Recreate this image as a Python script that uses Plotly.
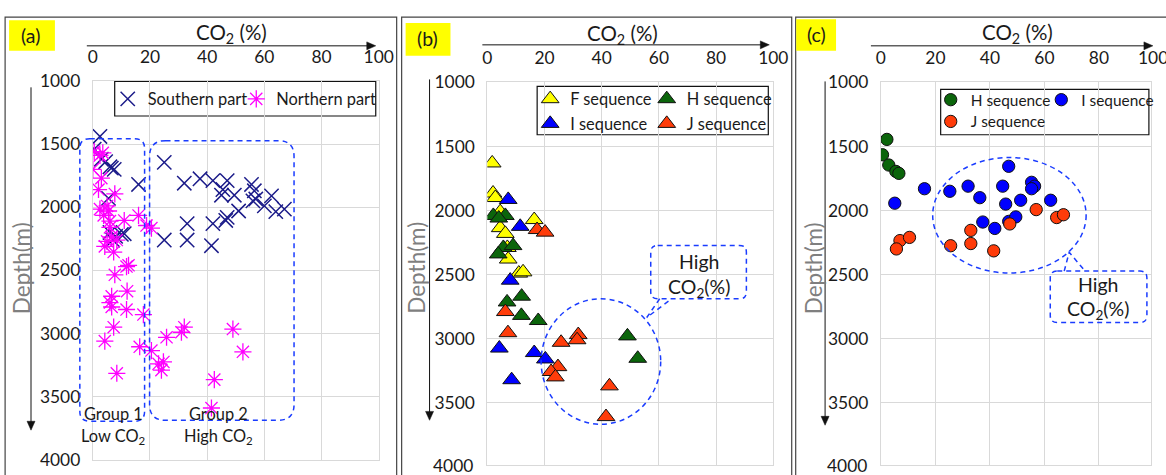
import plotly.graph_objects as go

# ---------------- data ----------------
# Panel (a)
south_co2 = [2.5, 0.5, 3, 6.5, 7.5, 6, 16, 5.5, 11, 6, 7, 10, 4.5, 8,
             25, 32, 37.5, 42, 47, 45, 49.5, 45.5, 55.5, 56.5, 56, 60, 62.5, 64, 67,
             51, 47, 46.5, 42, 33, 33, 25, 41.5, 57]
south_depth = [1440, 1540, 1620, 1690, 1700, 1680, 1820, 1930, 2210, 2200, 2260, 2215, 1640, 2230,
               1645, 1810, 1775, 1790, 1790, 1905, 1905, 1860, 1820, 1870, 1950, 1990, 1910, 2035, 2015,
               2030, 2080, 2105, 2130, 2130, 2260, 2260, 2305, 1935]
north_co2 = [0.5, 0, 2.5, 3.5, 3, 2, 7.7, 2.5, 5, 5.5, 3.8, 11, 16, 18.8, 20.5, 6, 6.6, 8.4,
             4.2, 7.3, 11.8, 12.5, 7.7, 12, 6.6, 6, 6.6, 11.8, 17.7, 7.3, 4.2, 16.4, 20.5,
             25.8, 23, 24.7, 24, 8.4, 31, 32, 49, 52.5, 42.5, 41.5, 5, 6]
north_depth = [1560, 1700, 1590, 1570, 1770, 1860, 1895, 2015, 1990, 2030, 2065, 2105, 2065, 2145,
               2165, 2160, 2235, 2260, 2310, 2355, 2470, 2460, 2535, 2665, 2705, 2755, 2790, 2810,
               2850, 2950, 3060, 3105, 3135, 3030, 3240, 3225, 3290, 3315, 2990, 2950, 2965, 3145,
               3365, 3590, 2270, 2110]

# Panel (b)
bF_co2 = [1.7, 2, 2.8, 4.5, 16.4, 4.5, 6.3, 7, 7.3, 11, 12.5]
bF_depth = [1630, 1865, 1900, 2010, 2072, 2135, 2180, 2290, 2380, 2490, 2480]
bH_co2 = [2.1, 6.3, 4, 5.6, 9, 3.8, 6.9, 12, 11.9, 17.8, 49, 52.6]
bH_depth = [2040, 2040, 2060, 2290, 2275, 2340, 2715, 2670, 2820, 2860, 2980, 3155]
bI_co2 = [7.3, 11.5, 8, 4.2, 16.4, 20.3, 8.5]
bI_depth = [1915, 2125, 2545, 3075, 3110, 3160, 3322]
bJ_co2 = [17.4, 20.2, 6.3, 7.2, 25.8, 31.8, 31.4, 24.7, 22.3, 23.8, 42.7, 41.5]
bJ_depth = [2150, 2170, 2790, 2955, 3030, 2970, 3010, 3220, 3258, 3300, 3370, 3610]

# Panel (c)
cH_co2 = [2.2, 0.6, 2.9, 5.5, 6.6]
cH_depth = [1445, 1565, 1645, 1695, 1710]
cI_co2 = [5.1, 16, 25.3, 32, 36.3, 44.7, 46.9, 45.8, 51.3, 55.3, 56.4, 55.3, 62.3, 37.4, 41.8, 46.9, 49.5]
cI_depth = [1943, 1830, 1850, 1810, 1900, 1810, 1655, 1950, 1920, 1780, 1810, 1830, 1920, 2090, 2140, 2085, 2050]
cJ_co2 = [57, 64.5, 67, 47.3, 33, 7, 10.5, 5.7, 25.6, 33, 41.4]
cJ_depth = [1993, 2055, 2033, 2105, 2155, 2235, 2210, 2300, 2275, 2258, 2315]

x_ticks = [0, 20, 40, 60, 80, 100]
y_ticks = [1000, 1500, 2000, 2500, 3000, 3500, 4000]

# ---------------- layout helpers ----------------
W, H = 1166, 475
# the photographed page keeps an 8px body margin and is then fitted back to W x H;
# design positions below are given in photographed-picture pixels and mapped here.
M = 8
SX, SY = (W + 2 * M) / W, (H + 2 * M) / H
FS = (SX + SY) / 2  # font / marker compensation
FONT = "Lato"


def fx(x):
    return x * SX - M


def fy(y):
    return y * SY - M


def PX(x):
    return fx(x) / W


def PY(y):
    return 1 - fy(y) / H


def fs(s):
    return round(s * FS, 1)


def rrect_path(x0, y0, x1, y1, r):
    X = lambda v: f"{PX(v):.5f}"
    Y = lambda v: f"{PY(v):.5f}"
    return (f"M {X(x0 + r)},{Y(y0)} L {X(x1 - r)},{Y(y0)} Q {X(x1)},{Y(y0)} {X(x1)},{Y(y0 + r)} "
            f"L {X(x1)},{Y(y1 - r)} Q {X(x1)},{Y(y1)} {X(x1 - r)},{Y(y1)} "
            f"L {X(x0 + r)},{Y(y1)} Q {X(x0)},{Y(y1)} {X(x0)},{Y(y1 - r)} "
            f"L {X(x0)},{Y(y0 + r)} Q {X(x0)},{Y(y0)} {X(x0 + r)},{Y(y0)} Z")


def poly_path(pts, close=True):
    s = "M " + " L ".join(f"{PX(x):.5f},{PY(y):.5f}" for x, y in pts)
    return s + (" Z" if close else "")


def span(a, b, va, vb):
    """clamp a domain [a,b] (fractions) to [0,1], returning domain and matching range"""
    a2, b2 = max(0.0, a), min(1.0, b)
    f = lambda t: va + (t - a) / (b - a) * (vb - va)
    return [a2, b2], [f(a2), f(b2)]


fig = go.Figure()

panels = [
    dict(x0=96, x1=383, y0=78.5, y1=462),
    dict(x0=492, x1=779, y0=80, y1=469),
    dict(x0=887, x1=1160.5, y0=80, y1=469),
]

axis_font = dict(family=FONT, size=fs(17), color="#1a1a1a")
for i, p in enumerate(panels):
    n = "" if i == 0 else str(i + 1)
    xdom, xrng = span(PX(p["x0"]), PX(p["x1"]), 0, 100)
    ydom, yrng = span(PY(p["y1"]), PY(p["y0"]), 4000, 1000)
    fig.update_layout(**{
        f"xaxis{n}": dict(domain=xdom, range=xrng, side="top",
                          anchor=f"y{n}", tickvals=x_ticks, showgrid=True, gridcolor="#d9d9d9",
                          gridwidth=1, zeroline=False, showline=True, mirror=True,
                          linecolor="#d9d9d9", linewidth=1, ticks="", ticklabelstandoff=10,
                          ticklabeloverflow="allow", tickfont=axis_font),
        f"yaxis{n}": dict(domain=ydom, range=yrng,
                          anchor=f"x{n}", tickvals=y_ticks, showgrid=True, gridcolor="#d9d9d9",
                          gridwidth=1, zeroline=False, showline=True, mirror=True,
                          linecolor="#d9d9d9", linewidth=1, ticks="", ticklabelstandoff=8,
                          ticklabeloverflow="allow", tickfont=axis_font),
    })

# ---------------- traces ----------------
fig.add_trace(go.Scatter(x=south_co2, y=south_depth, mode="markers", name="Southern part",
                         marker=dict(symbol="x-thin-open", size=fs(14), color="#1c1c8a",
                                     line=dict(color="#1c1c8a", width=1.5)),
                         xaxis="x", yaxis="y", legend="legend"))
fig.add_trace(go.Scatter(x=north_co2, y=north_depth, mode="markers", name="Northern part",
                         marker=dict(symbol="asterisk-open", size=fs(14), color="#ff00ff",
                                     line=dict(color="#ff00ff", width=1.3)),
                         xaxis="x", yaxis="y", legend="legend2"))

tri = lambda c: dict(symbol="triangle-up", size=fs(15), color=c, line=dict(color="#111", width=1))
fig.add_trace(go.Scatter(x=bF_co2, y=bF_depth, mode="markers", name="F sequence", marker=tri("#ffff00"),
                         xaxis="x2", yaxis="y2", legend="legend3"))
fig.add_trace(go.Scatter(x=bH_co2, y=bH_depth, mode="markers", name="H sequence", marker=tri("#0b650b"),
                         xaxis="x2", yaxis="y2", legend="legend4"))
fig.add_trace(go.Scatter(x=bI_co2, y=bI_depth, mode="markers", name="I sequence", marker=tri("#0000ff"),
                         xaxis="x2", yaxis="y2", legend="legend5"))
fig.add_trace(go.Scatter(x=bJ_co2, y=bJ_depth, mode="markers", name="J sequence", marker=tri("#ff3c0a"),
                         xaxis="x2", yaxis="y2", legend="legend6"))

circ = lambda c: dict(symbol="circle", size=fs(12), color=c, line=dict(color="#111", width=1))
fig.add_trace(go.Scatter(x=cH_co2, y=cH_depth, mode="markers", name="H sequence", marker=circ("#0b650b"),
                         xaxis="x3", yaxis="y3", legend="legend7"))
fig.add_trace(go.Scatter(x=cI_co2, y=cI_depth, mode="markers", name="I sequence", marker=circ("#0000ff"),
                         xaxis="x3", yaxis="y3", legend="legend8"))
fig.add_trace(go.Scatter(x=cJ_co2, y=cJ_depth, mode="markers", name="J sequence", marker=circ("#ff3c0a"),
                         xaxis="x3", yaxis="y3", legend="legend9"))


def leg(x, y, size=16):
    return dict(x=PX(x), y=PY(y), xanchor="left", yanchor="middle",
                bgcolor="rgba(0,0,0,0)", borderwidth=0,
                font=dict(family=FONT, size=fs(size), color="#1a1a1a"), itemwidth=30)


fig.update_layout(
    legend=leg(111, 97), legend2=leg(240, 97),
    legend3=leg(535, 97), legend4=leg(652, 97),
    legend5=leg(535, 122), legend6=leg(652, 122),
    legend7=leg(937, 98, 15), legend8=leg(1048, 98, 15),
    legend9=leg(937, 120, 15),
)

shapes = []
# panel borders
for (a, b) in [(8, 401), (406, 797.5), (801.5, 1175)]:
    shapes.append(dict(type="rect", xref="paper", yref="paper", x0=PX(a), x1=PX(b), y0=PY(480), y1=PY(14),
                       line=dict(color="#444", width=1.2), layer="below"))
# legend boxes
for (a, b, c, d) in [(118, 380, 79, 114), (542, 774, 84, 133), (947, 1156, 87, 133)]:
    shapes.append(dict(type="rect", xref="paper", yref="paper", x0=PX(a), x1=PX(b), y0=PY(d), y1=PY(c),
                       line=dict(color="#111", width=1.2), fillcolor="white", layer="below"))
# yellow label boxes
for (a, b, c, d) in [(12, 58, 17, 48), (410, 455, 20, 53), (802, 842, 16, 48)]:
    shapes.append(dict(type="rect", xref="paper", yref="paper", x0=PX(a), x1=PX(b), y0=PY(d), y1=PY(c),
                       line=dict(width=0), fillcolor="#ffff00", layer="above"))

# axis arrows (top CO2 arrow and left depth arrow per panel)
for (ax0, ax1, ay, lx, ly0, ly1) in [
    (90, 380, 43, 34, 85, 432),
    (487, 775, 42, 434, 77, 422),
    (877, 1160, 43, 831, 79, 427),
]:
    shapes.append(dict(type="path", xref="paper", yref="paper",
                       path=poly_path([(ax0, ay), (ax1 - 7, ay)], close=False),
                       line=dict(color="#111", width=1)))
    shapes.append(dict(type="path", xref="paper", yref="paper",
                       path=poly_path([(ax1, ay), (ax1 - 9, ay - 4), (ax1 - 9, ay + 4)]),
                       fillcolor="#111", line=dict(color="#111", width=0.5)))
    shapes.append(dict(type="path", xref="paper", yref="paper",
                       path=poly_path([(lx, ly0), (lx, ly1 - 7)], close=False),
                       line=dict(color="#111", width=1)))
    shapes.append(dict(type="path", xref="paper", yref="paper",
                       path=poly_path([(lx, ly1), (lx - 4, ly1 - 9), (lx + 4, ly1 - 9)]),
                       fillcolor="#111", line=dict(color="#111", width=0.5)))

dash = dict(color="#1a3cff", width=1.5, dash="5px,4px")
shapes.append(dict(type="path", xref="paper", yref="paper", path=rrect_path(83, 137, 148, 423, 10), line=dash))
shapes.append(dict(type="path", xref="paper", yref="paper", path=rrect_path(153, 139, 298, 422, 16), line=dash))
shapes.append(dict(type="circle", xref="paper", yref="paper", x0=PX(546), x1=PX(666), y0=PY(426), y1=PY(299), line=dash))
shapes.append(dict(type="path", xref="paper", yref="paper", path=rrect_path(656, 245, 752, 299, 7), line=dash))
shapes.append(dict(type="path", xref="paper", yref="paper",
                   path=poly_path([(665, 299), (652, 318), (677, 299)], close=False), line=dash))
shapes.append(dict(type="circle", xref="paper", yref="paper", x0=PX(939), x1=PX(1093), y0=PY(273), y1=PY(156), line=dash))
shapes.append(dict(type="path", xref="paper", yref="paper", path=rrect_path(1057, 271, 1154, 323, 7), line=dash))
shapes.append(dict(type="path", xref="paper", yref="paper",
                   path=poly_path([(1071, 271), (1076, 252), (1092, 271)], close=False), line=dash))
fig.update_layout(shapes=shapes)

# ---------------- annotations ----------------
ann = []


def text(x, y, s, size=16, color="#1a1a1a", angle=0):
    ann.append(dict(x=PX(x), y=PY(y), xref="paper", yref="paper", text=s, showarrow=False,
                    xanchor="center", yanchor="middle", textangle=angle,
                    font=dict(family=FONT, size=fs(size), color=color)))


for s, x, y in [("(a)", 33, 33), ("(b)", 432, 36), ("(c)", 822, 32)]:
    text(x, y, s, size=19)

for cx, ty, dx in [(235, 31, 24), (628, 32, 421), (1024, 31, 819)]:
    text(cx, ty, "CO<sub>2</sub> (%)", size=20)
    text(dx, 268, "Depth(m)", size=22, color="#7f7f7f", angle=-90)

# tick labels that fall on the picture edge (outside the plotted range after fitting)
text(458, 468, "4000", size=17)
text(853, 468, "4000", size=17)
text(1160.5, 55, "100", size=17)

text(117, 415, "Group 1", size=16)
text(117, 438, "Low CO<sub>2</sub>", size=16)
text(222, 415, "Group 2", size=16)
text(222, 438, "High CO<sub>2</sub>", size=16)
text(704, 261, "High", size=19)
text(704, 288, "CO<sub>2</sub>(%)", size=19)
text(1105, 285, "High", size=19)
text(1105, 310, "CO<sub>2</sub>(%)", size=19)

fig.update_layout(annotations=ann, width=W, height=H, margin=dict(l=0, r=0, t=0, b=0),
                  paper_bgcolor="white", plot_bgcolor="white", showlegend=True)

fig.write_html("out.html")
